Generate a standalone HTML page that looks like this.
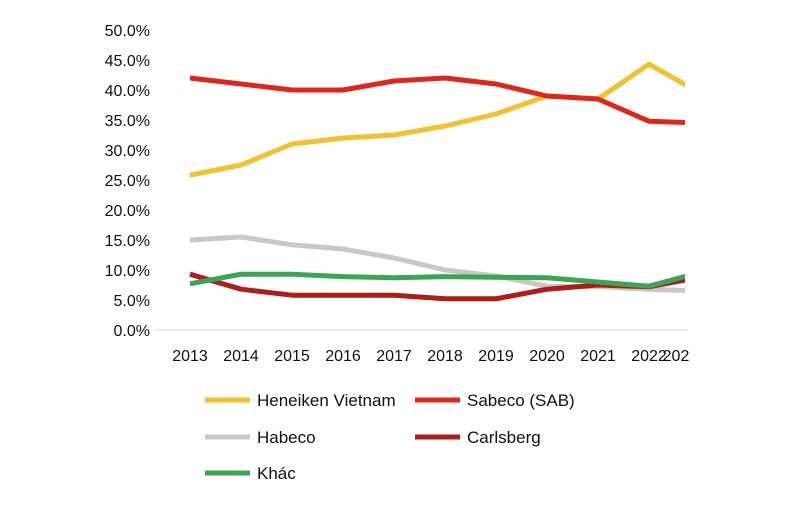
<!DOCTYPE html>
<html><head><meta charset="utf-8"><style>
body{margin:0;background:#fff;}
svg text{font-family:"Liberation Sans",sans-serif;fill:#111;}
</style></head><body>
<svg width="808" height="500">
<defs><clipPath id="clip"><rect x="150" y="0" width="535" height="360"/></clipPath></defs>
<g id="yaxis"></g>
<g id="xaxis"></g>
<g id="series" clip-path="url(#clip)"></g>
<g id="legend"></g>
</svg>
<script>
const years=["2013","2014","2015","2016","2017","2018","2019","2020","2021","2022","202"];
const yTicks=[0,5,10,15,20,25,30,35,40,45,50];
const heineken=[25.8,27.5,31,32,32.5,34,36,39,38.5,44.3,39.5];
const sabeco=[42,41,40,40,41.5,42,41,39,38.5,34.8,34.5];
const habeco=[15,15.5,14.2,13.5,12,10,9,7.3,7.2,6.8,6.5];
const carlsberg=[9.3,6.8,5.8,5.8,5.8,5.2,5.2,6.8,7.5,7.2,8.8];
const khac=[7.7,9.3,9.3,8.9,8.7,8.9,8.8,8.7,8.0,7.3,9.6];
const NS="http://www.w3.org/2000/svg";
const x=i=>190+i*51;
const y=v=>330-v*6;
function mk(t,a,p){const e=document.createElementNS(NS,t);for(const k in a)e.setAttribute(k,a[k]);p.appendChild(e);return e;}
const ya=document.getElementById('yaxis');
yTicks.forEach(v=>{const t=mk('text',{x:150,y:y(v)+6,'text-anchor':'end','font-size':16},ya);t.textContent=v.toFixed(1)+'%';

});
const xa=document.getElementById('xaxis');
const ax=mk('line',{x1:155,x2:688,y1:330,y2:330,stroke:'#d9d9d9','stroke-width':1},xa);


years.forEach((yr,i)=>{const t=mk('text',{x:Math.min(x(i),676),y:361,'text-anchor':'middle','font-size':16},xa);t.textContent=yr;

});
const series=[["Heneiken Vietnam",heineken,"#f2c12e","line-heineken"],["Sabeco (SAB)",sabeco,"#e0251b","line-sabeco"],["Habeco",habeco,"#c8c8c8","line-habeco"],["Carlsberg",carlsberg,"#b01c17","line-carlsberg"],["Khác",khac,"#3aa655","line-khac"]];
const sg=document.getElementById('series');
[2,0,1,3,4].forEach(k=>{const s=series[k];const p=mk('polyline',{points:s[1].map((v,i)=>x(i)+','+y(v)).join(' '),fill:'none',stroke:s[2],'stroke-width':5,'stroke-linejoin':'round'},sg);

});
const lg=document.getElementById('legend');
const pos=[[205,400],[415,400],[205,437],[415,437],[205,473]];
series.forEach((s,k)=>{const [lx,ly]=pos[k];
const l=mk('line',{x1:lx,x2:lx+45,y1:ly,y2:ly,stroke:s[2],'stroke-width':5},lg);


const t=mk('text',{x:lx+52,y:ly+6,'font-size':17},lg);t.textContent=s[0];

});
</script>
</body></html>
